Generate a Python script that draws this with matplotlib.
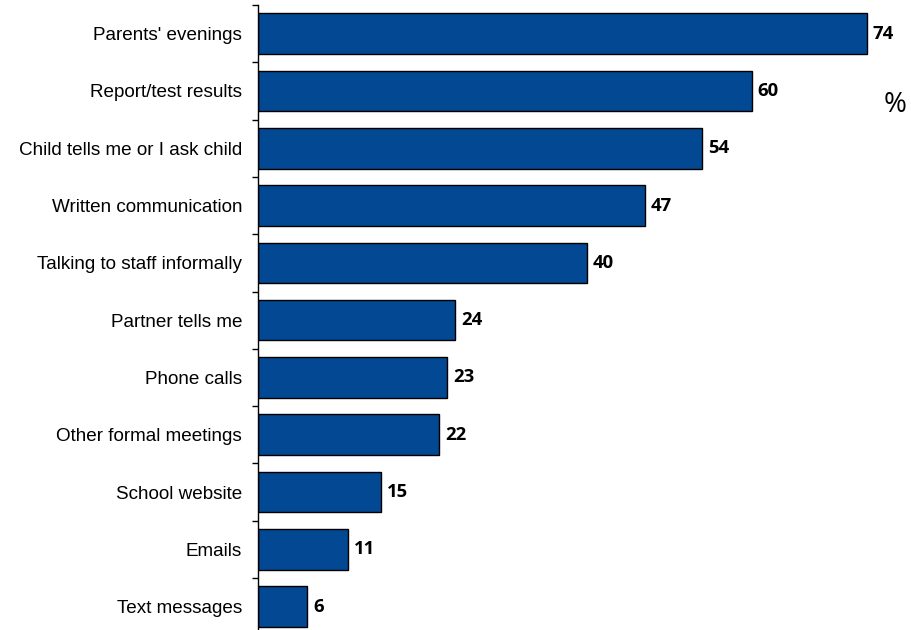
import matplotlib
matplotlib.use("Agg")
import matplotlib.pyplot as plt
import numpy as np

categories = [
    "Parents' evenings",
    "Report/test results",
    "Child tells me or I ask child",
    "Written communication",
    "Talking to staff informally",
    "Partner tells me",
    "Phone calls",
    "Other formal meetings",
    "School website",
    "Emails",
    "Text messages",
]
values = [74, 60, 54, 47, 40, 24, 23, 22, 15, 11, 6]

W, H = 911, 630
fig = plt.figure(figsize=(W / 100, H / 100), dpi=100)
# axes spans from the top boundary (5 px) down past the bottom edge
top_px, pitch = 5, 57.3
n = len(categories)
bottom_px = top_px + n * pitch
ax = fig.add_axes([258 / W, 1 - bottom_px / H, 658 / W, (bottom_px - top_px) / H])

y = np.arange(n)
bar_color = "#034892"
ax.barh(y, values, height=0.71, color=bar_color, edgecolor="black", linewidth=1.0)
ax.set_ylim(n - 0.5, -0.5)
ax.set_xlim(0, 80)

for yi, v in zip(y, values):
    ax.annotate(str(v), (v, yi), xytext=(4.2, 0), textcoords="offset points",
                ha="left", va="center", fontsize=13.3, fontweight="bold",
                family="Open Sans", color="black")

ax.set_yticks(y)
ax.set_yticklabels(categories, fontsize=13.6, family="Liberation Sans")
ax.tick_params(axis="y", which="major", length=0, pad=11.5)
ax.set_yticks(np.arange(-0.5, n, 1.0), minor=True)
ax.tick_params(axis="y", which="minor", length=4, width=1, direction="out")
ax.set_xticks([])

for s in ["top", "right", "bottom"]:
    ax.spines[s].set_visible(False)
ax.spines["left"].set_linewidth(1.0)

fig.text(895 / W, 1 - 105 / H, "%", ha="center", va="center", fontsize=20,
         family="Open Sans")

fig.savefig("out.png", dpi=100)
